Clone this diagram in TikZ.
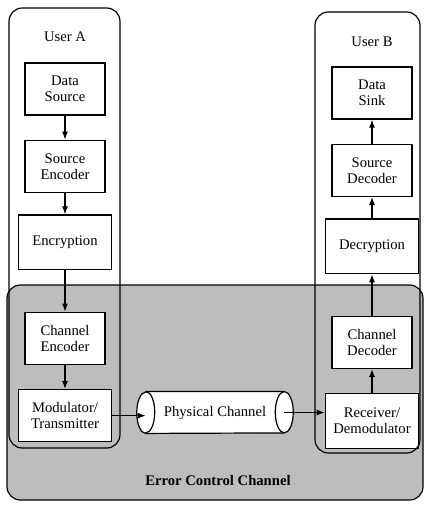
\documentclass[tikz,border=0pt]{standalone}
\usepackage{fontspec}
\setmainfont{Liberation Serif}
\usetikzlibrary{arrows.meta, positioning, backgrounds}
\tikzset{
  blk/.style={
    draw, line width=1pt, fill=white,
    minimum width=60pt, minimum height=39pt,
    align=center, inner sep=2pt,
    font=\fontsize{11}{12}\selectfont
  },
  blkw/.style={blk, minimum width=70pt, minimum height=41pt},
  frm/.style={draw, line width=0.9pt, rounded corners=10pt},
  ecc/.style={frm, fill=black!26},
  pipe/.style={draw, line width=0.9pt, fill=white},
  sig/.style={-{Latex[length=6pt,width=4.5pt]}, line width=0.9pt},
  ttl/.style={font=\fontsize{11}{12}\selectfont}
}

\begin{document}
\begin{tikzpicture}[x=0.75pt, y=-0.75pt]
  \useasboundingbox (0,0) rectangle (425,507);

  % sending side
  \node[ttl] (ua) at (65,37) {User A};
  \node[blk] (src) at (65,89)       {Data\\Source};
  \node[blk,  below=18pt of src]  (senc) {Source\\Encoder};
  \node[blkw, below=16pt of senc] (enc)  {Encryption};
  \node[blk,  below=31pt of enc]  (cenc) {Channel\\Encoder};
  \node[blkw, minimum height=39pt, below=18pt of cenc] (mod) {Modulator/\\Transmitter};

  % receiving side
  \node[ttl] (ub) at (372,42) {User B};
  \node[blk] (snk) at (372,93)      {Data\\Sink};
  \node[blk,  below=18pt of snk]  (sdec) {Source\\Decoder};
  \node[blkw, below=16pt of sdec] (dcr)  {Decryption};
  \node[blk,  below=31pt of dcr]  (cdec) {Channel\\Decoder};
  \node[blkw, below=18pt of cdec] (rec)  {Receiver/\\Demodulator};

  % channel
  \node[ttl, minimum width=103.5pt, minimum height=31pt, inner sep=0pt]
        (phy) at (215,412.5) {Physical Channel};
  \node[ttl, font=\fontsize{11}{12}\selectfont\bfseries] (eccl) at (218,480)
        {Error Control Channel};

  \begin{scope}[on background layer]
    \draw[ecc] (7,285) rectangle (423,500);
    \filldraw[pipe] (phy.north west) -- (phy.north east)
      arc[start angle=90, end angle=-90, x radius=6.75pt, y radius=15.5pt]
      -- (phy.south west)
      arc[start angle=270, end angle=90, x radius=6.75pt, y radius=15.5pt]
      -- cycle;
    \draw[line width=0.9pt] (phy.north west)
      arc[start angle=90, end angle=-90, x radius=6.75pt, y radius=15.5pt];
    \draw[line width=0.9pt] (phy.north east)
      arc[start angle=90, end angle=270, x radius=6.75pt, y radius=15.5pt];
  \end{scope}

  \draw[frm] (9,8) rectangle (120,448);
  \draw[frm] (315,12) rectangle (420,453);

  \draw[sig] (src)  -- (senc);
  \draw[sig] (senc) -- (enc);
  \draw[sig] (enc)  -- (cenc);
  \draw[sig] (cenc) -- (mod);
  \draw[sig] (mod.east) -- (mod.east -| phy.west);
  \draw[sig] (phy.east) -- (phy.east -| rec.west);
  \draw[sig] (rec)  -- (cdec);
  \draw[sig] (cdec) -- (dcr);
  \draw[sig] (dcr)  -- (sdec);
  \draw[sig] (sdec) -- (snk);

\end{tikzpicture}
\end{document}
